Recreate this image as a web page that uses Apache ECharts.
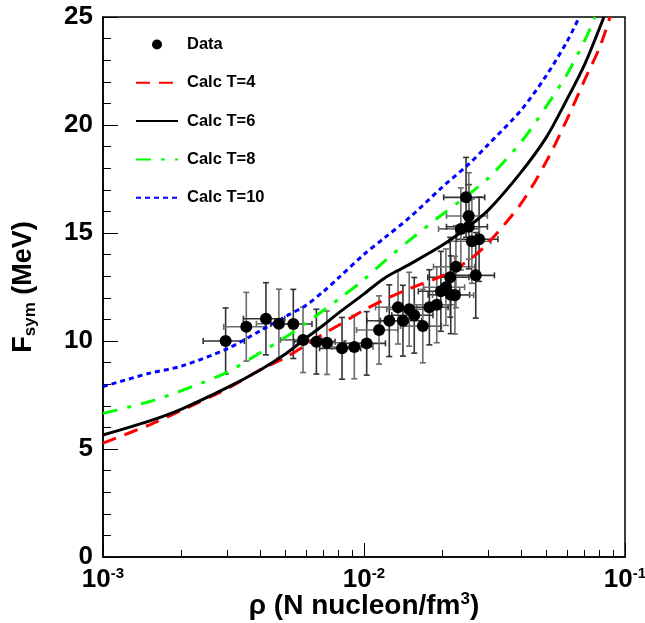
<!DOCTYPE html>
<html>
<head>
<meta charset="utf-8">
<script src="https://cdn.jsdelivr.net/npm/echarts@6/dist/echarts.min.js"></script>
<style>html,body{margin:0;padding:0;background:#fff}#c{width:645px;height:623px}</style>
</head>
<body>
<div id="c"></div>
<script>
// ---- Data ----
var dataX = [0.00295,0.00354,0.00421,0.00472,0.00536,0.00584,0.00657,0.00721,0.00824,0.00918,
  0.01024,0.01142,0.0125,0.0135,0.0141,0.0149,0.01558,0.0168,0.0178,0.0190,
  0.0197,0.0206,0.0215,0.0223,0.0214,0.0225,0.0268,0.0259,0.0276,0.0235,
  0.0252,0.0252,0.0246];
var dataY = [10.0,10.66,11.03,10.80,10.79,10.05,9.97,9.92,9.66,9.72,
  9.89,10.51,10.94,11.56,10.94,11.47,11.19,10.69,11.56,11.68,
  12.30,12.49,12.14,12.12,12.95,13.44,13.04,14.62,14.71,15.19,
  15.29,15.79,16.65];
var dataXErr = [0.00053,0.00064,0.00076,0.00085,0.00096,0.00105,0.00118,0.0013,0.00148,0.00165,
  0.00184,0.00206,0.00225,0.00243,0.00254,0.00268,0.0028,0.003,0.0032,0.0034,
  0.00355,0.0037,0.0039,0.004,0.00385,0.00405,0.0048,0.0047,0.005,0.0042,
  0.0045,0.0045,0.0044];
var dataYErr = [1.53,1.59,1.67,1.6,1.6,1.51,1.5,1.47,1.43,1.47,
  1.47,1.58,1.66,1.7,1.64,1.71,1.75,1.7,1.74,1.76,
  1.85,1.77,1.8,1.8,1.85,1.9,1.98,1.95,1.95,1.9,
  1.95,2.0,1.85];

var curveX = [0.001,0.0015,0.002,0.003,0.004,0.005,0.006,0.007,0.008,0.01,
  0.012,0.015,0.02,0.025,0.03,0.04,0.05,0.06,0.07,0.08];
var calcT4X = curveX.concat([0.0876]);
var calcT4Y = [5.27,6.11,6.79,7.80,8.66,9.24,9.82,10.34,10.73,11.43,
  11.92,12.43,13.03,13.71,14.56,16.37,18.32,20.27,22.08,23.6,25.0];
var calcT6X = curveX.concat([0.083]);
var calcT6Y = [5.65,6.29,6.85,7.85,8.66,9.40,10.14,10.74,11.30,12.18,
  12.92,13.56,14.44,15.28,16.07,17.82,19.44,21.2,22.8,24.5,25.0];
var calcT8X = curveX.slice(0,19).concat([0.0767]);
var calcT8Y = [6.65,7.19,7.70,8.56,9.46,10.17,10.83,11.42,11.94,12.84,
  13.70,14.68,15.87,16.76,17.55,19.21,20.87,22.36,23.9,25.0];
var calcT10X = curveX.slice(0,18).concat([0.0668]);
var calcT10Y = [7.89,8.50,8.84,9.65,10.47,11.13,11.66,12.3,12.93,14.01,
  14.78,15.73,17.14,18.15,19.11,20.69,22.3,23.87,25.0];

var xMajorTicks = [0.001,0.01,0.1];
var xTickExponents = ['-3','-2','-1'];
var xMinorTicks = [0.002,0.003,0.004,0.005,0.006,0.007,0.008,0.009,
  0.02,0.03,0.04,0.05,0.06,0.07,0.08,0.09];
var yTicks = [0,5,10,15,20,25];

var seriesNames = ['Data','Calc T=4','Calc T=6','Calc T=8','Calc T=10'];

function zip(xs, ys){ return xs.map(function(x,i){ return [x, ys[i]]; }); }

var FONT = 'Liberation Sans, Arial, Helvetica, sans-serif';
var chart = echarts.init(document.getElementById('c'), null, {renderer:'canvas'});

var lineBase = {type:'line', showSymbol:false, symbol:'none', smooth:0.3, clip:true, z:3};

var option = {
  animation:false,
  backgroundColor:'#fff',
  textStyle:{fontFamily:FONT},
  grid:{left:103, right:20, top:17, bottom:66, containLabel:false, outerBoundsMode:'none',
    show:true, borderColor:'#000', borderWidth:1.5, backgroundColor:'transparent'},
  legend:{
    orient:'vertical', left:135, top:36, padding:0, itemWidth:42, itemHeight:10, itemGap:21.3,
    selectedMode:false,
    data:[
      {name:seriesNames[0]},
      {name:seriesNames[1], itemStyle:{opacity:0}},
      {name:seriesNames[2], itemStyle:{opacity:0}},
      {name:seriesNames[3], itemStyle:{opacity:0}},
      {name:seriesNames[4], itemStyle:{opacity:0}}
    ],
    textStyle:{fontFamily:FONT, fontWeight:'bold', fontSize:16.5, color:'#000', padding:[0,0,0,4]}
  },
  xAxis:[{
    type:'log', logBase:10, min:0.001, max:0.1, splitNumber:2,
    name:'{a|\u03c1 (N nucleon/fm}{s|3}{a|)}', nameLocation:'middle', nameGap:34,
    nameMoveOverlap:false,
    nameTextStyle:{rich:{
      a:{fontFamily:FONT, fontWeight:'bold', fontSize:28, color:'#000', lineHeight:31},
      s:{fontFamily:FONT, fontWeight:'bold', fontSize:17, color:'#000', lineHeight:16, verticalAlign:'top'}
    }},
    axisLine:{show:true, lineStyle:{color:'#000', width:1.5}},
    axisTick:{show:true, inside:true, length:14, lineStyle:{color:'#000', width:1}, customValues:xMajorTicks},
    minorTick:{show:false},
    splitLine:{show:false},
    axisLabel:{
      margin:9, customValues:xMajorTicks, color:'#000',
      formatter:function(v){
        var i = xMajorTicks.indexOf(v);
        if (i < 0) { i = Math.round(Math.log10(v)) + 3; }
        return '{b|10}{s|' + xTickExponents[i] + '}';
      },
      rich:{
        b:{fontFamily:FONT, fontWeight:'bold', fontSize:26, color:'#000', lineHeight:28},
        s:{fontFamily:FONT, fontWeight:'bold', fontSize:15, color:'#000', lineHeight:14, verticalAlign:'top'}
      }
    }
  },{
    type:'log', logBase:10, min:0.001, max:0.1, position:'bottom',
    axisLine:{show:false}, axisLabel:{show:false}, splitLine:{show:false},
    axisTick:{show:true, inside:true, length:7, lineStyle:{color:'#000', width:1}, customValues:xMinorTicks}
  }],
  yAxis:{
    type:'value', min:0, max:25, interval:5,
    name:'{f|F}{s|sym}{f| (MeV)}', nameLocation:'middle', nameGap:64, nameRotate:90,
    nameMoveOverlap:false,
    nameTextStyle:{rich:{
      f:{fontFamily:FONT, fontWeight:'bold', fontSize:27, color:'#000', lineHeight:30},
      s:{fontFamily:FONT, fontWeight:'bold', fontSize:17, color:'#000', lineHeight:12, verticalAlign:'bottom'}
    }},
    axisLine:{show:true, lineStyle:{color:'#000', width:1.5}},
    axisTick:{show:true, inside:true, length:15, lineStyle:{color:'#000', width:1}},
    minorTick:{show:true, splitNumber:5, length:8, lineStyle:{color:'#000', width:1}},
    splitLine:{show:false},
    axisLabel:{margin:10, color:'#000', fontFamily:FONT, fontWeight:'bold', fontSize:26,
      customValues:yTicks}
  },
  series:[
    Object.assign({}, lineBase, {name:'Calc T=4', data:zip(calcT4X, calcT4Y),
      itemStyle:{color:'#ff0000'}, lineStyle:{color:'#ff0000', width:3, type:[14,9]}}),
    Object.assign({}, lineBase, {name:'Calc T=6', data:zip(calcT6X, calcT6Y),
      itemStyle:{color:'#000000'}, lineStyle:{color:'#000000', width:3, type:'solid'}}),
    Object.assign({}, lineBase, {name:'Calc T=8', data:zip(calcT8X, calcT8Y),
      itemStyle:{color:'#00ff00'}, lineStyle:{color:'#00ff00', width:3, type:[15,10,4,10]}}),
    Object.assign({}, lineBase, {name:'Calc T=10', data:zip(calcT10X, calcT10Y),
      itemStyle:{color:'#0000ff'}, lineStyle:{color:'#0000ff', width:3, type:[5,4]}}),
    {
      type:'custom', name:'errors', z:2, silent:true,
      data: dataX.map(function(x,i){ return [x, dataY[i], dataXErr[i], dataYErr[i]]; }),
      renderItem:function(params, api){
        var x = api.value(0), y = api.value(1), xe = api.value(2), ye = api.value(3);
        var c = api.coord([x, y]);
        var l = api.coord([x - xe, y]), r = api.coord([x + xe, y]);
        var t = api.coord([x, y + ye]), b = api.coord([x, y - ye]);
        var col = (params.dataIndex % 2 === 0) ? '#333' : '#6a6a6a';
        var st = {stroke:col, lineWidth:1.6};
        var cap = 3;
        return {type:'group', children:[
          {type:'line', shape:{x1:l[0], y1:c[1], x2:r[0], y2:c[1]}, style:st},
          {type:'line', shape:{x1:c[0], y1:t[1], x2:c[0], y2:b[1]}, style:st},
          {type:'line', shape:{x1:l[0], y1:c[1]-cap, x2:l[0], y2:c[1]+cap}, style:st},
          {type:'line', shape:{x1:r[0], y1:c[1]-cap, x2:r[0], y2:c[1]+cap}, style:st},
          {type:'line', shape:{x1:c[0]-cap, y1:t[1], x2:c[0]+cap, y2:t[1]}, style:st},
          {type:'line', shape:{x1:c[0]-cap, y1:b[1], x2:c[0]+cap, y2:b[1]}, style:st}
        ]};
      }
    },
    {
      type:'scatter', name:'Data', z:4, symbol:'circle', symbolSize:12,
      itemStyle:{color:'#000', opacity:1},
      data:zip(dataX, dataY)
    }
  ]
};
chart.setOption(option);
</script>
</body>
</html>
